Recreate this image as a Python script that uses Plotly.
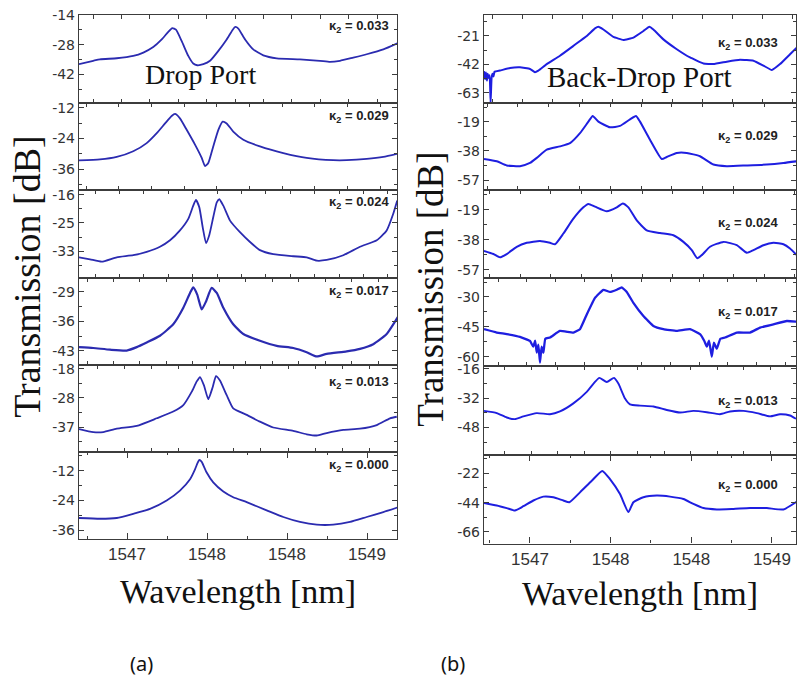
import plotly.graph_objects as go

W, H = 797, 688

# ---------------- data (wavelength in nm, transmission in dB) ----------------
# Drop port (left column)
L033_wl = [1546.700, 1546.789, 1546.831, 1546.936, 1547.039, 1547.102, 1547.164, 1547.217, 1547.258, 1547.283,
           1547.306, 1547.342, 1547.383, 1547.414, 1547.439, 1547.477, 1547.519, 1547.571, 1547.623, 1547.661,
           1547.677, 1547.696, 1547.738, 1547.789, 1547.852, 1547.936, 1548.081, 1548.206, 1548.269, 1548.331,
           1548.414, 1548.498, 1548.602, 1548.696]
L033_db = [-37.2, -35.6, -34.9, -34.4, -33.3, -31.7, -29.1, -25.5, -21.9, -20.1,
           -20.9, -26.3, -33.3, -36.9, -37.7, -37.2, -35.6, -30.9, -25.5, -20.9,
           -19.6, -20.4, -25.5, -30.2, -33.0, -34.4, -34.9, -35.6, -36.1, -35.6,
           -34.1, -32.5, -30.2, -27.1]

L029_wl = [1546.700, 1546.831, 1546.936, 1547.039, 1547.123, 1547.186, 1547.238, 1547.279, 1547.300, 1547.331,
           1547.373, 1547.425, 1547.467, 1547.488, 1547.508, 1547.539, 1547.571, 1547.598, 1547.623, 1547.664,
           1547.727, 1547.831, 1547.977, 1548.123, 1548.289, 1548.373, 1548.498, 1548.602, 1548.696]
L029_db = [-32.6, -32.2, -31.2, -29.0, -25.8, -21.9, -18.1, -15.2, -14.4, -16.1,
           -20.6, -26.4, -31.6, -34.8, -33.6, -27.1, -20.6, -17.4, -18.1, -21.3,
           -24.5, -27.1, -29.7, -31.6, -32.5, -32.5, -32.0, -31.2, -29.9]

L024_wl = [1546.700, 1546.769, 1546.842, 1546.936, 1547.039, 1547.123, 1547.206, 1547.269, 1547.331, 1547.383,
           1547.414, 1547.431, 1547.452, 1547.473, 1547.494, 1547.514, 1547.539, 1547.561, 1547.577, 1547.602,
           1547.644, 1547.706, 1547.769, 1547.831, 1547.914, 1548.039, 1548.123, 1548.186, 1548.248, 1548.352,
           1548.456, 1548.561, 1548.623, 1548.664, 1548.689]
L024_db = [-34.7, -35.3, -36.0, -34.7, -34.1, -33.1, -31.6, -29.7, -26.8, -23.4,
           -19.5, -17.8, -20.0, -25.8, -30.5, -28.2, -22.9, -18.5, -17.6, -19.5,
           -23.9, -27.3, -30.2, -32.6, -33.8, -34.4, -34.7, -35.7, -35.5, -34.1,
           -31.6, -29.7, -26.8, -21.9, -18.0]

L017_wl = [1546.700, 1546.789, 1546.894, 1546.998, 1547.061, 1547.123, 1547.206, 1547.289, 1547.352, 1547.394,
           1547.414, 1547.439, 1547.467, 1547.494, 1547.529, 1547.561, 1547.602, 1547.664, 1547.727, 1547.831,
           1547.936, 1548.039, 1548.123, 1548.186, 1548.248, 1548.373, 1548.456, 1548.539, 1548.623, 1548.696]
L017_db = [-42.1, -42.3, -42.7, -42.9, -42.1, -41.0, -39.4, -36.7, -32.8, -29.3,
           -28.0, -29.7, -33.2, -31.3, -28.1, -29.3, -32.8, -36.7, -39.0, -40.6,
           -41.8, -42.3, -43.3, -44.3, -43.7, -43.1, -42.5, -41.4, -39.0, -34.8]

L013_wl = [1546.700, 1546.789, 1546.852, 1546.936, 1547.061, 1547.186, 1547.289, 1547.352, 1547.404, 1547.436,
           1547.456, 1547.481, 1547.508, 1547.536, 1547.556, 1547.581, 1547.623, 1547.664, 1547.748, 1547.831,
           1547.914, 1548.039, 1548.123, 1548.186, 1548.248, 1548.352, 1548.456, 1548.561, 1548.644, 1548.686]
L013_db = [-38.0, -39.0, -39.0, -37.9, -37.0, -34.5, -32.3, -30.2, -25.9, -22.5,
           -21.1, -23.8, -28.3, -24.3, -20.8, -22.2, -27.0, -31.3, -33.4, -35.6,
           -37.5, -38.6, -39.7, -40.1, -39.3, -38.3, -37.9, -36.7, -34.5, -34.0]

L000_wl = [1546.700, 1546.831, 1546.936, 1547.039, 1547.144, 1547.248, 1547.331, 1547.394, 1547.425, 1547.442,
           1547.452, 1547.467, 1547.498, 1547.539, 1547.602, 1547.664, 1547.748, 1547.873, 1547.977, 1548.081,
           1548.186, 1548.289, 1548.394, 1548.498, 1548.602, 1548.696]
L000_db = [-31.1, -31.4, -31.1, -29.4, -27.4, -24.0, -20.0, -15.4, -11.4, -8.7,
           -7.6, -8.4, -12.7, -16.7, -20.4, -22.7, -24.7, -28.0, -30.7, -32.7,
           -33.8, -33.8, -32.7, -30.7, -28.7, -26.7]

# Back-drop port (right column)
R033_wl = [1546.715, 1546.721, 1546.727, 1546.733, 1546.738, 1546.744, 1546.750, 1546.756, 1546.762, 1546.768,
           1546.774, 1546.780, 1546.814, 1546.876, 1546.938, 1547.000, 1547.031, 1547.052, 1547.104, 1547.186,
           1547.269, 1547.352, 1547.403, 1547.424, 1547.455, 1547.517, 1547.579, 1547.641, 1547.703, 1547.740,
           1547.765, 1547.827, 1547.910, 1547.992, 1548.075, 1548.137, 1548.220, 1548.302, 1548.385, 1548.447,
           1548.499, 1548.550, 1548.612, 1548.654]
R033_db = [-47.0, -53.0, -48.0, -54.0, -49.0, -52.0, -50.0, -70.0, -52.0, -49.0,
           -51.0, -47.5, -46.6, -44.7, -44.2, -45.4, -47.8, -46.6, -41.8, -35.6,
           -28.3, -21.0, -15.4, -14.2, -16.2, -21.7, -23.9, -22.2, -17.3, -14.2,
           -16.2, -23.5, -30.8, -36.9, -41.3, -41.8, -40.0, -38.6, -39.3, -42.9,
           -46.2, -41.8, -34.5, -29.6]

R029_wl = [1546.715, 1546.794, 1546.856, 1546.938, 1547.000, 1547.042, 1547.104, 1547.186, 1547.248, 1547.310,
           1547.362, 1547.389, 1547.424, 1547.496, 1547.558, 1547.620, 1547.657, 1547.682, 1547.744, 1547.817,
           1547.848, 1547.910, 1547.972, 1548.054, 1548.137, 1548.220, 1548.344, 1548.468, 1548.571, 1548.654]
R029_db = [-43.3, -44.8, -47.5, -48.0, -45.9, -42.6, -37.2, -35.1, -33.0, -26.5,
           -19.0, -15.3, -19.0, -22.7, -21.8, -17.5, -15.3, -19.0, -30.8, -43.3,
           -42.0, -39.4, -39.4, -41.5, -46.9, -48.0, -47.5, -46.9, -45.9, -44.8]

R024_wl = [1546.715, 1546.773, 1546.814, 1546.856, 1546.918, 1546.980, 1547.062, 1547.124, 1547.155, 1547.207,
           1547.269, 1547.331, 1547.362, 1547.403, 1547.476, 1547.538, 1547.575, 1547.610, 1547.662, 1547.724,
           1547.806, 1547.889, 1547.951, 1548.003, 1548.037, 1548.065, 1548.116, 1548.199, 1548.282, 1548.344,
           1548.385, 1548.447, 1548.509, 1548.571, 1548.612, 1548.654]
R024_db = [-45.0, -47.0, -49.1, -47.0, -42.4, -39.9, -38.7, -39.9, -40.8, -34.0,
           -24.6, -17.4, -15.2, -16.9, -19.9, -17.4, -14.9, -17.4, -25.7, -32.0,
           -33.7, -35.1, -39.3, -44.5, -49.7, -47.7, -42.4, -39.3, -41.4, -46.2,
           -44.5, -41.4, -39.9, -40.8, -43.5, -47.7]

R017_wl = [1546.715, 1546.794, 1546.856, 1546.938, 1547.000, 1547.020, 1547.032, 1547.042, 1547.052, 1547.062,
           1547.072, 1547.083, 1547.095, 1547.124, 1547.186, 1547.269, 1547.310, 1547.352, 1547.403, 1547.455,
           1547.496, 1547.538, 1547.569, 1547.600, 1547.641, 1547.703, 1547.765, 1547.827, 1547.910, 1547.992,
           1548.054, 1548.080, 1548.096, 1548.110, 1548.127, 1548.140, 1548.158, 1548.180, 1548.209, 1548.282,
           1548.364, 1548.426, 1548.509, 1548.592, 1548.654]
R017_db = [-46.2, -47.9, -48.7, -50.1, -52.1, -55.0, -52.0, -58.0, -54.0, -63.0,
           -55.0, -58.0, -51.0, -50.4, -47.1, -47.9, -46.2, -38.8, -30.5, -26.4,
           -27.5, -26.4, -25.2, -27.5, -33.0, -39.6, -44.6, -46.2, -47.1, -46.2,
           -48.7, -52.0, -55.0, -52.0, -60.0, -53.0, -56.0, -51.0, -50.4, -47.9,
           -47.9, -45.4, -43.8, -42.1, -42.4]

R013_wl = [1546.715, 1546.794, 1546.856, 1546.907, 1546.959, 1547.042, 1547.124, 1547.186, 1547.269, 1547.352,
           1547.403, 1547.430, 1547.476, 1547.521, 1547.548, 1547.589, 1547.620, 1547.682, 1547.765, 1547.848,
           1547.930, 1548.013, 1548.096, 1548.178, 1548.240, 1548.323, 1548.406, 1548.488, 1548.550, 1548.612,
           1548.649]
R013_db = [-39.0, -40.2, -42.6, -43.5, -42.0, -40.2, -40.8, -39.3, -34.9, -28.6,
           -23.2, -21.0, -23.2, -21.0, -24.1, -32.2, -35.4, -36.1, -36.6, -38.5,
           -39.9, -39.0, -39.7, -40.8, -39.3, -39.0, -40.2, -42.0, -40.8, -41.5,
           -43.3]

R000_wl = [1546.715, 1546.794, 1546.856, 1546.907, 1546.959, 1547.021, 1547.083, 1547.145, 1547.207, 1547.244,
           1547.310, 1547.383, 1547.448, 1547.496, 1547.558, 1547.610, 1547.641, 1547.703, 1547.786, 1547.868,
           1547.951, 1548.013, 1548.075, 1548.158, 1548.261, 1548.364, 1548.468, 1548.571, 1548.654]
R000_db = [-44.2, -46.1, -48.1, -49.9, -46.7, -42.4, -39.5, -40.0, -42.4, -43.7,
           -36.3, -27.6, -20.2, -26.4, -37.6, -51.1, -43.7, -40.0, -38.7, -39.5,
           -41.3, -45.0, -48.1, -49.1, -48.7, -48.1, -48.1, -49.1, -43.2]

KAPPA = ["0.033", "0.029", "0.024", "0.017", "0.013", "0.000"]

# tick labels
XTICK_VALS = [1547.0, 1547.5, 1548.0, 1548.5]
XTICK_TEXT = ["1547", "1548", "1548", "1549"]

L_YTICKS = [[-14, -28, -42], [-12, -24, -36], [-16.3, -24.6, -32.9],
            [-29, -36, -43], [-18.4, -27.9, -37.4], [-12, -24, -36]]
L_YTEXT = [["-14", "-28", "-42"], ["-12", "-24", "-36"], ["-16", "-25", "-33"],
           ["-29", "-36", "-43"], ["-18", "-28", "-37"], ["-12", "-24", "-36"]]
R_YTICKS = [[-21, -42, -63], [-19, -38, -57], [-19, -38, -57],
            [-30, -45, -60], [-16, -32, -48], [-22, -44, -66]]
R_YTEXT = [[str(v) for v in t] for t in R_YTICKS]

L_YRANGE = [[-55.5, -13.9], [-44.1, -10.06], [-40.76, -14.84],
            [-46.27, -25.73], [-45.4, -17.1], [-39.5, -4.3]]
R_YRANGE = [[-70.5, -5.4], [-63.4, -6.8], [-62.1, -6.3],
            [-64.6, -20.4], [-62.9, -14.4], [-74.8, -8.1]]

# per-panel x tick layout of the stacked sub-plots (tick0, dtick) for the upper panels
L_XT = [(1546.7875, 0.1775), (1546.744, 0.2044), (1546.800, 0.1525), (1546.750, 0.1656), (1546.8125, 0.1706)]
R_XT = [(1546.765, 0.186), (1546.734, 0.191), (1546.752, 0.189), (1546.802, 0.178), (1546.845, 0.1643)]

LEFT = [(L033_wl, L033_db), (L029_wl, L029_db), (L024_wl, L024_db),
        (L017_wl, L017_db), (L013_wl, L013_db), (L000_wl, L000_db)]
RIGHT = [(R033_wl, R033_db), (R029_wl, R029_db), (R024_wl, R024_db),
         (R017_wl, R017_db), (R013_wl, R013_db), (R000_wl, R000_db)]

# ---------------- layout geometry ----------------
def fx(px):
    return px / W

def fy(py):
    return 1 - py / H

cols = [
    dict(data=LEFT, x0=79, x1=397, xr=[1546.70, 1548.6875],
         bounds=[7, 96, 184, 273, 361, 449, 537], color="#2b2bb0",
         yt=L_YTICKS, ytx=L_YTEXT, yr=L_YRANGE, xt=L_XT,
         kx=391, ky=[19, 110, 197, 287, 379, 463], widths=[1.8, 1.8, 1.8, 2.2, 1.8, 1.8],
         smooth=[0.5, 0.5, 0.5, 0.5, 0.5, 0.5]),
    dict(data=RIGHT, x0=484, x1=796, xr=[1546.715, 1548.649],
         bounds=[7, 96, 184, 273, 362, 452, 542], color="#1e1ee0",
         yt=R_YTICKS, ytx=R_YTEXT, yr=R_YRANGE, xt=R_XT,
         kx=780, ky=[36, 130, 218, 308, 398, 483], widths=[2.0, 2.0, 2.0, 2.3, 1.9, 2.0],
         smooth=[0.3, 0.5, 0.5, 0.3, 0.5, 0.5]),
]

AX = "#3c3c3c"
fig = go.Figure()
layout = dict(width=W, height=H, margin=dict(l=0, r=0, t=0, b=0),
              paper_bgcolor="white", plot_bgcolor="white", showlegend=False)
annotations = []
n = 0
for c in cols:
    for i in range(6):
        n += 1
        xs = "" if n == 1 else str(n)
        wl, db = c["data"][i]
        fig.add_trace(go.Scatter(x=wl, y=db, mode="lines", xaxis="x" + xs, yaxis="y" + xs,
                                 line=dict(color=c["color"], width=c["widths"][i],
                                           shape="spline", smoothing=c["smooth"][i]),
                                 hoverinfo="skip"))
        top, bot = c["bounds"][i], c["bounds"][i + 1]
        xa = dict(domain=[fx(c["x0"]), fx(c["x1"])], range=c["xr"], anchor="y" + xs,
                  showline=True, linecolor=AX, linewidth=1.4, mirror="allticks",
                  ticks="inside", tickcolor=AX, tickwidth=1.2, showgrid=False, zeroline=False)
        if i == 5:
            xa.update(tickmode="array", tickvals=XTICK_VALS, ticktext=XTICK_TEXT, ticklen=6,
                      tickfont=dict(family="Liberation Sans, Arial", size=17, color="#333"),
                      minor=dict(tickvals=[v + 0.25 for v in [1546.5] + XTICK_VALS], ticks="inside",
                                 ticklen=3, tickcolor=AX, tickwidth=1.2))
        else:
            t0, dt = c["xt"][i]
            xa.update(tickmode="linear", tick0=t0, dtick=dt, ticklen=4, showticklabels=False)
        yt = c["yt"][i]
        step = yt[0] - yt[1]
        ya = dict(domain=[fy(bot), fy(top)], range=c["yr"][i], anchor="x" + xs,
                  showline=True, linecolor=AX, linewidth=1.4, mirror="allticks",
                  ticks="inside", tickcolor=AX, tickwidth=1.2, ticklen=5,
                  tickmode="array", tickvals=yt, ticktext=c["ytx"][i],
                  tickfont=dict(family="DejaVu Sans", size=14, color="#333"),
                  minor=dict(tickvals=[yt[0] + step / 2] + [v - step / 2 for v in yt],
                             ticks="inside", ticklen=3, tickcolor=AX, tickwidth=1.2),
                  showgrid=False, zeroline=False)
        layout["xaxis" + xs] = xa
        layout["yaxis" + xs] = ya
        annotations.append(dict(xref="paper", yref="paper", x=fx(c["kx"]), y=fy(c["ky"][i]),
                                xanchor="right", yanchor="middle", showarrow=False,
                                text="<b>κ<sub>2</sub> = " + KAPPA[i] + "</b>",
                                font=dict(family="Liberation Sans, Arial", size=13, color="#222")))

serif = "Liberation Serif, Times New Roman, serif"
texts = [
    ("Drop Port", 201, 67, 28, 0, serif),
    ("Back-Drop Port", 639, 70, 29, 0, serif),
    ("Transmission [dB]", 27, 272, 38, -90, serif),
    ("Transmission [dB]", 431, 285, 37, -90, serif),
    ("Wavelength [nm]", 238, 590, 34, 0, serif),
    ("Wavelength [nm]", 640, 592, 34, 0, serif),
    ("(a)", 141, 663, 20, 0, "Noto Sans, Liberation Sans"),
    ("(b)", 453, 663, 20, 0, "Noto Sans, Liberation Sans"),
]
for t, x, y, s, ang, fam in texts:
    annotations.append(dict(xref="paper", yref="paper", x=fx(x), y=fy(y), xanchor="center",
                            yanchor="middle", showarrow=False, text=t, textangle=ang,
                            font=dict(family=fam, size=s, color="#111")))

layout["annotations"] = annotations
fig.update_layout(**layout)
fig.write_html("out.html", config={"displayModeBar": False},
               post_script="document.body.style.margin='0px';document.body.style.overflow='hidden';")
